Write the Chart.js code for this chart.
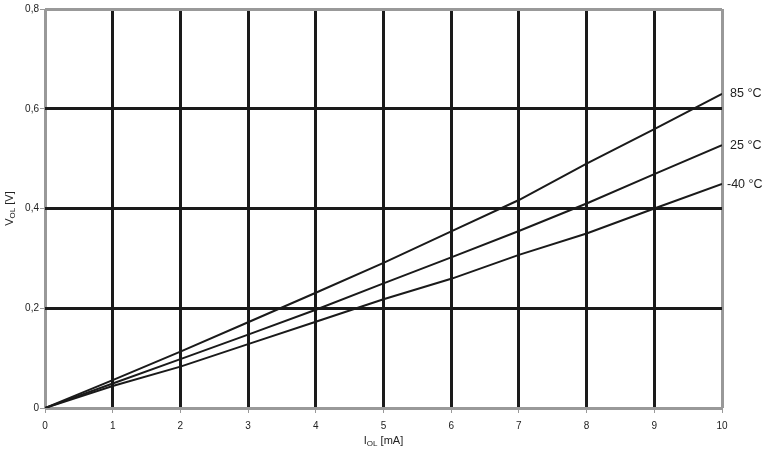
<!DOCTYPE html>
<html>
<head>
<meta charset="utf-8">
<script src="https://cdn.jsdelivr.net/npm/chart.js@4/dist/chart.umd.min.js"></script>
<style>
html,body{margin:0;padding:0;background:#fff;}
#wrap{width:766px;height:452px;position:relative;}
</style>
</head>
<body>
<div id="wrap"><canvas id="c" width="766" height="452"></canvas></div>
<script>
const currents = [0, 1, 2, 3, 4, 5, 6, 7, 8, 9, 10];
const v85 = [0, 0.056, 0.113, 0.172, 0.231, 0.291, 0.354, 0.417, 0.490, 0.559, 0.630];
const v25 = [0, 0.049, 0.098, 0.147, 0.197, 0.250, 0.302, 0.355, 0.410, 0.469, 0.527];
const vm40 = [0, 0.044, 0.083, 0.128, 0.173, 0.218, 0.259, 0.307, 0.350, 0.400, 0.449];
const seriesLabels = ['85 °C', '25 °C', '-40 °C'];
const yTicks = [0, 0.2, 0.4, 0.6, 0.8];
const xTicks = [0, 1, 2, 3, 4, 5, 6, 7, 8, 9, 10];

const toPts = arr => currents.map((x, i) => ({x: x, y: arr[i]}));
const FONT = '"Liberation Sans", Arial, sans-serif';
const GRAY = '#999999';
const INK = '#1a1a1a';

const labelPlugin = {
  id: 'labels',
  afterDraw(chart) {
    const ctx = chart.ctx;
    const ca = chart.chartArea;
    ctx.save();
    ctx.fillStyle = '#222';
    ctx.font = '12.5px ' + FONT;
    ctx.textBaseline = 'middle';
    ctx.textAlign = 'left';
    chart.data.datasets.forEach((ds, i) => {
      const meta = chart.getDatasetMeta(i);
      const pt = meta.data[meta.data.length - 1];
      const dx = ds.label.startsWith('-') ? 5 : 8;
      ctx.fillText(ds.label, ca.right + dx, pt.y);
    });
    const drawSub = (parts, x, y) => {
      let total = 0;
      parts.forEach(p => {
        ctx.font = (p[1] ? '8px ' : '11px ') + FONT;
        total += ctx.measureText(p[0]).width;
      });
      let cx = x - total / 2;
      parts.forEach(p => {
        ctx.font = (p[1] ? '8px ' : '11px ') + FONT;
        ctx.fillText(p[0], cx, y + (p[1] ? 3 : 0));
        cx += ctx.measureText(p[0]).width;
      });
    };
    ctx.fillStyle = '#222';
    ctx.textAlign = 'left';
    ctx.textBaseline = 'middle';
    drawSub([['I', false], ['OL', true], [' [mA]', false]], (ca.left + ca.right) / 2, 441);
    ctx.save();
    ctx.translate(10, (ca.top + ca.bottom) / 2);
    ctx.rotate(-Math.PI / 2);
    drawSub([['V', false], ['OL', true], [' [V]', false]], 0, 0);
    ctx.restore();
    ctx.restore();
  }
};

const edgeColor = (edges) => (c) => (edges.includes(c.tick && c.tick.value) ? GRAY : INK);

new Chart(document.getElementById('c'), {
  type: 'line',
  data: {
    datasets: [
      {label: seriesLabels[0], data: toPts(v85)},
      {label: seriesLabels[1], data: toPts(v25)},
      {label: seriesLabels[2], data: toPts(vm40)}
    ].map(d => Object.assign(d, {borderColor: INK, borderWidth: 2, pointRadius: 0, tension: 0, fill: false}))
  },
  options: {
    responsive: false,
    animation: false,
    devicePixelRatio: 1,
    layout: {padding: {top: 9, right: 44, left: 0, bottom: 0}},
    plugins: {legend: {display: false}, tooltip: {enabled: false}},
    scales: {
      x: {
        type: 'linear', min: 0, max: 10,
        afterBuildTicks: a => { a.ticks = xTicks.map(v => ({value: v})); },
        afterFit: a => { a.height = 44; },
        border: {display: false},
        grid: {
          color: edgeColor([0, 10]),
          lineWidth: 3,
          tickColor: GRAY, tickWidth: 1, tickLength: 5,
          drawTicks: true
        },
        ticks: {
          color: '#222', font: {family: FONT, size: 10}, padding: 7, maxRotation: 0,
          callback: v => String(v)
        }
      },
      y: {
        type: 'linear', min: 0, max: 0.8,
        afterBuildTicks: a => { a.ticks = yTicks.map(v => ({value: v})); },
        afterFit: a => { a.width = 45; },
        border: {display: false},
        grid: {
          color: edgeColor([0, 0.8]),
          lineWidth: 3,
          tickColor: GRAY, tickWidth: 1, tickLength: 5,
          drawTicks: true
        },
        ticks: {
          color: '#222', font: {family: FONT, size: 10}, padding: 1,
          callback: v => (v === 0 ? '0' : v.toFixed(1).replace('.', ','))
        }
      }
    }
  },
  plugins: [labelPlugin]
});
</script>
</body>
</html>
